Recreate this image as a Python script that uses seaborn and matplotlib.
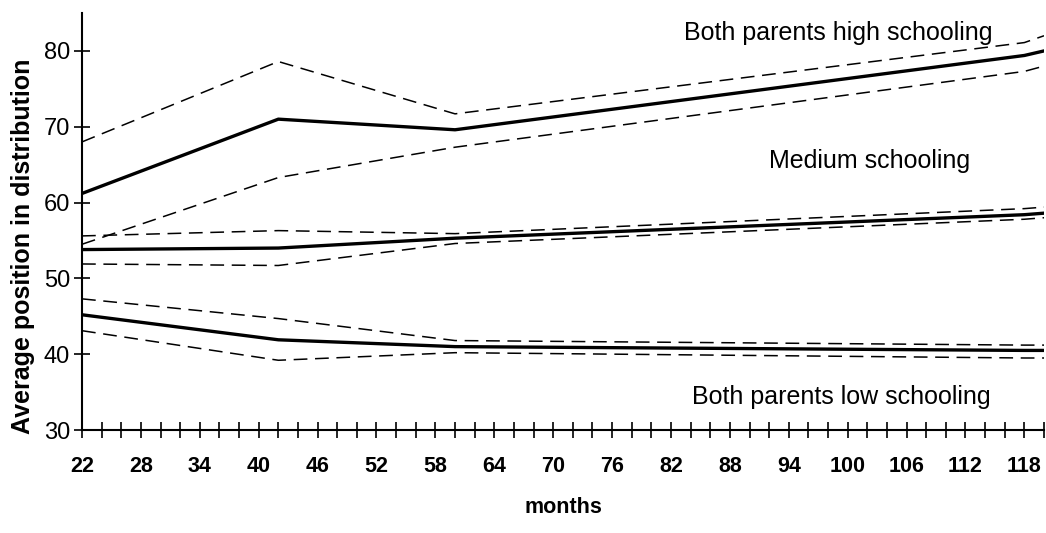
import numpy as np
import pandas as pd
import matplotlib
matplotlib.use("Agg")
import matplotlib.pyplot as plt
import seaborn as sns

# ---- data ----
months = [22, 42, 60, 118, 120]

high_mean = [61.2, 71.0, 69.6, 79.4, 80.0]
high_upper = [68.0, 78.6, 71.7, 81.1, 82.0]
high_lower = [54.5, 63.3, 67.3, 77.3, 78.0]

medium_mean = [53.8, 54.0, 55.3, 58.4, 58.6]
medium_upper = [55.6, 56.3, 55.9, 59.2, 59.4]
medium_lower = [51.9, 51.7, 54.6, 57.8, 58.0]

low_mean = [45.2, 41.9, 41.0, 40.5, 40.5]
low_upper = [47.3, 44.7, 41.8, 41.2, 41.2]
low_lower = [43.1, 39.2, 40.2, 39.5, 39.5]

labels = ["Both parents high schooling", "Medium schooling", "Both parents low schooling"]
label_pos_x = [99.0, 102.2, 99.3]
label_pos_y = [82.3, 65.5, 34.3]

x_tick_labels = list(range(22, 119, 6))
y_ticks = [30, 40, 50, 60, 70, 80]

# ---- build long table ----
series = {
    ("high", "mean"): high_mean, ("high", "upper"): high_upper, ("high", "lower"): high_lower,
    ("medium", "mean"): medium_mean, ("medium", "upper"): medium_upper, ("medium", "lower"): medium_lower,
    ("low", "mean"): low_mean, ("low", "upper"): low_upper, ("low", "lower"): low_lower,
}
rows = []
for (grp, kind), vals in series.items():
    for m, v in zip(months, vals):
        rows.append({"months": m, "value": v, "group": grp, "kind": kind})
df = pd.DataFrame(rows)

sns.set_theme(style="white")
plt.rcParams["font.family"] = ["Liberation Sans", "DejaVu Sans"]
for k in ["text.color", "axes.labelcolor", "xtick.color", "ytick.color"]:
    plt.rcParams[k] = "black"

fig = plt.figure(figsize=(10.46, 5.33), dpi=100)
ax = fig.add_axes([0.0784, 0.1932, 0.9197, 0.7824])

for (grp, kind), sub in df.groupby(["group", "kind"]):
    if kind == "mean":
        sns.lineplot(data=sub, x="months", y="value", ax=ax, color="black",
                     linewidth=2.4, estimator=None, legend=False)
    else:
        sns.lineplot(data=sub, x="months", y="value", ax=ax, color="black",
                     linewidth=1.1, estimator=None, legend=False)
        ax.lines[-1].set_dashes((9, 5))

ax.set_xlim(22, 120)
ax.set_ylim(30, 85)

ax.set_xticks(np.arange(22, 121, 2))
ax.set_xticklabels([str(t) if t in x_tick_labels else "" for t in np.arange(22, 121, 2)],
                   fontsize=15.5, fontweight="bold")
ax.set_yticks(y_ticks)
ax.set_yticklabels([str(t) for t in y_ticks], fontsize=17)
ax.tick_params(axis="x", bottom=True, direction="inout", length=12, width=1.2,
               color="black", pad=13, labelcolor="black")
ax.tick_params(axis="y", left=True, direction="inout", length=11, width=1.2,
               color="black", pad=3, labelcolor="black")

for s in ["top", "right"]:
    ax.spines[s].set_visible(False)
for s in ["left", "bottom"]:
    ax.spines[s].set_color("black")
    ax.spines[s].set_linewidth(1.5)

ax.set_xlabel("months", fontsize=15.5, fontweight="bold")
ax.set_ylabel("Average position in distribution", fontsize=18, fontweight="bold")
ax.xaxis.set_label_coords(0.5, -0.16)
ax.yaxis.set_label_coords(-0.049, 0.441)

for lab, lx, ly in zip(labels, label_pos_x, label_pos_y):
    ax.text(lx, ly, lab, fontsize=18, ha="center", va="center", color="black")

fig.savefig("out.png", dpi=100)
